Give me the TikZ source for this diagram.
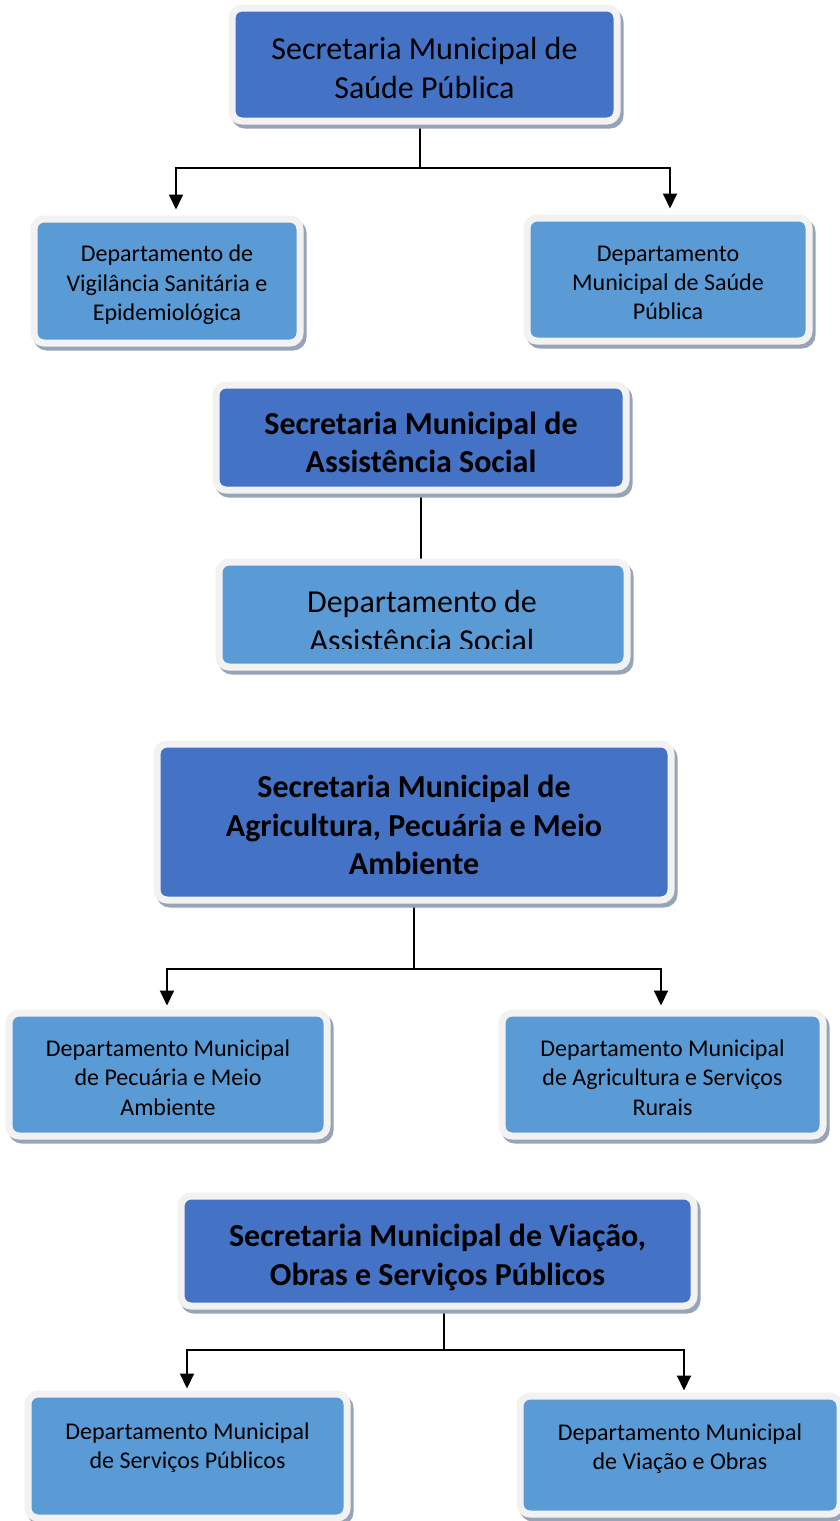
\documentclass[tikz,border=0pt]{standalone}
\usepackage{fontspec}
\setmainfont{Carlito}
\usetikzlibrary{arrows.meta,backgrounds}
\definecolor{darkbox}{HTML}{4472C4}
\definecolor{lightbox}{HTML}{5B9BD5}
\definecolor{rimcol}{HTML}{F2F2F2}
\definecolor{shadecol}{HTML}{97A4B8}
\newcommand{\boxtext}[3]{\raisebox{-#1pt}[\height][\depth]{\parbox{#2pt}{\centering #3}}}
\tikzset{
  orgbox/.style={rectangle, rounded corners=10pt, draw=rimcol, line width=7pt,
    inner sep=0pt, align=center, text=black,
    preaction={draw=shadecol, fill=shadecol, line width=7pt,
      transform canvas={shift={(3pt,-4pt)}}}},
  secbox/.style={orgbox, fill=darkbox},
  depbox/.style={orgbox, fill=lightbox},
  bigtxt/.style={font=\fontsize{32}{39}\selectfont},
  boldtxt/.style={font=\fontsize{32}{38.5}\selectfont\bfseries},
  smalltxt/.style={font=\fontsize{24}{29.3}\selectfont},
  link/.style={line width=2pt, black},
  arrowlink/.style={link, -{Triangle[width=14pt,length=15pt]}},
}
\begin{document}
\begin{tikzpicture}[x=1pt,y=-1pt]
\useasboundingbox (0,0) rectangle (839,1521);

% Secretaria de Saúde
\node[secbox, bigtxt, minimum width=385pt, minimum height=113pt] (b1) at (424.5,64.5)
  {\boxtext{4}{380}{Secretaria Municipal de\\Saúde Pública}};
\node[depbox, smalltxt, minimum width=266pt, minimum height=124pt] (b2) at (167,281)
  {\boxtext{4}{262}{Departamento de\\Vigilância Sanitária e\\Epidemiológica}};
\node[depbox, smalltxt, minimum width=282pt, minimum height=123pt] (b3) at (668,279.5)
  {\boxtext{3.5}{278}{Departamento\\Municipal de Saúde\\Pública}};

% Assistência Social
\node[secbox, boldtxt, minimum width=410pt, minimum height=105pt] (b4) at (421,437.5)
  {\boxtext{5}{400}{Secretaria Municipal de\\Assistência Social}};
\node[depbox, minimum width=408pt, minimum height=105pt] (b5) at (423,614.5) {};
\begin{scope}
  \clip (200,560) rectangle (640,648);
  \node[bigtxt, align=center, inner sep=0pt] (b5t) at (422,621) {Departamento de\\Assistência Social};
\end{scope}

% Agricultura
\node[secbox, boldtxt, minimum width=514pt, minimum height=156pt] (b6) at (414,822)
  {\boxtext{3}{505}{Secretaria Municipal de\\Agricultura, Pecuária e Meio\\Ambiente}};
\node[depbox, smalltxt, minimum width=318pt, minimum height=123pt] (b7) at (168,1074.5)
  {\boxtext{3}{314}{Departamento Municipal\\de Pecuária e Meio\\Ambiente}};
\node[depbox, smalltxt, minimum width=321pt, minimum height=123pt] (b8) at (662.5,1074.5)
  {\boxtext{3}{317}{Departamento Municipal\\de Agricultura e Serviços\\Rurais}};

% Viação
\node[secbox, boldtxt, minimum width=513pt, minimum height=110pt] (b9) at (437.5,1251)
  {\boxtext{6.5}{505}{Secretaria Municipal de Viação,\\Obras e Serviços Públicos}};
\node[depbox, smalltxt, minimum width=319pt, minimum height=124pt] (b10) at (187.5,1456)
  {\boxtext{4}{315}{Departamento Municipal\\de Serviços Públicos\\\mbox{}}};
\node[depbox, smalltxt, minimum width=320pt, minimum height=118pt] (b11) at (680,1455)
  {\boxtext{6}{316}{Departamento Municipal\\de Viação e Obras\\\mbox{}}};

\begin{scope}[on background layer]
  \fill[white] (0,0) rectangle (839,1521);
  % group 1
  \coordinate (j1) at (420,168);
  \coordinate (l1) at (176,168);
  \coordinate (r1) at (670,168);
  \draw[link] (j1 |- b1.south) -- (j1);
  \draw[arrowlink, shorten >=6pt] (j1) -- (l1) -- (l1 |- b2.north);
  \draw[arrowlink, shorten >=6pt] (j1) -- (r1) -- (r1 |- b3.north);
  % group 2
  \draw[link] (b4.south) -- (b4.south |- b5.north);
  % group 3
  \coordinate (j3) at (414,969);
  \coordinate (l3) at (167,969);
  \coordinate (r3) at (661,969);
  \draw[link] (j3 |- b6.south) -- (j3);
  \draw[arrowlink, shorten >=4pt] (j3) -- (l3) -- (l3 |- b7.north);
  \draw[arrowlink, shorten >=4pt] (j3) -- (r3) -- (r3 |- b8.north);
  % group 4
  \coordinate (j4) at (444,1350);
  \coordinate (l4) at (187,1350);
  \coordinate (r4) at (684,1350);
  \draw[link] (j4 |- b9.south) -- (j4);
  \draw[arrowlink, shorten >=2pt] (j4) -- (l4) -- (l4 |- b10.north);
  \draw[arrowlink, shorten >=2pt] (j4) -- (r4) -- (r4 |- b11.north);
\end{scope}
\end{tikzpicture}
\end{document}
